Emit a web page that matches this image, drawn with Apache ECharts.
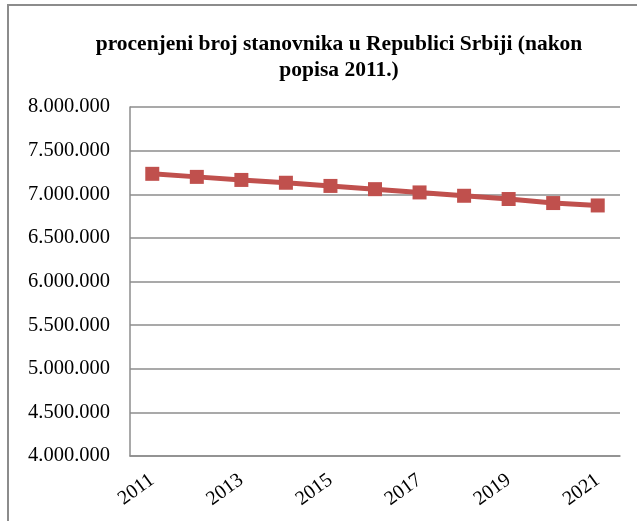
<!DOCTYPE html>
<html>
<head>
<meta charset="utf-8">
<script src="https://cdn.jsdelivr.net/npm/echarts@6/dist/echarts.min.js"></script>
<style>
html, body { margin: 0; padding: 0; background: #fff; }
#chart { width: 637px; height: 521px; }
</style>
</head>
<body>
<div id="chart"></div>
<script>
// procijenjeni broj stanovnika, godisnje
var years = ['2011', '2012', '2013', '2014', '2015', '2016', '2017', '2018', '2019', '2020', '2021'];
var population = [7234099, 7199077, 7164132, 7131787, 7095383, 7058322, 7020858, 6982604, 6945235, 6899126, 6871547];
var titleText = 'procenjeni broj stanovnika u Republici Srbiji (nakon\npopisa 2011.)';

var serif = '"Liberation Serif", "DejaVu Serif", serif';

function fmt(v) {
  return String(v).replace(/\B(?=(\d{3})+(?!\d))/g, '.');
}

var chart = echarts.init(document.getElementById('chart'));
chart.setOption({
  backgroundColor: '#fff',
  animation: false,
  graphic: [
    { type: 'rect', shape: { x: 8, y: 5, width: 700, height: 600 },
      style: { fill: 'none', stroke: '#8c8c8c', lineWidth: 2 } }
  ],
  title: {
    text: titleText,
    left: 334, top: 26, textAlign: 'center',
    textStyle: { fontFamily: serif, fontWeight: 'bold', fontSize: 21.5, lineHeight: 26, color: '#000' }
  },
  grid: { left: 130, top: 107, right: 17, bottom: 65 },
  xAxis: {
    type: 'category',
    data: years,
    boundaryGap: true,
    axisLine: { lineStyle: { color: '#8c8c8c', width: 1.5 } },
    axisTick: { show: false },
    axisLabel: { interval: 1, rotate: 36, margin: 22, fontFamily: serif, fontSize: 20, color: '#000' }
  },
  yAxis: {
    type: 'value',
    min: 4000000, max: 8000000, interval: 500000,
    axisLine: { show: true, lineStyle: { color: '#8c8c8c', width: 1.5 } },
    axisTick: { show: false },
    splitLine: { lineStyle: { color: '#8c8c8c', width: 1.5 } },
    axisLabel: { margin: 20, fontFamily: serif, fontSize: 20.5, color: '#000', formatter: fmt }
  },
  series: [{
    type: 'line',
    data: population,
    symbol: 'rect',
    symbolSize: 14,
    lineStyle: { color: '#c0504d', width: 5 },
    itemStyle: { color: '#c0504d' }
  }]
});
</script>
</body>
</html>
